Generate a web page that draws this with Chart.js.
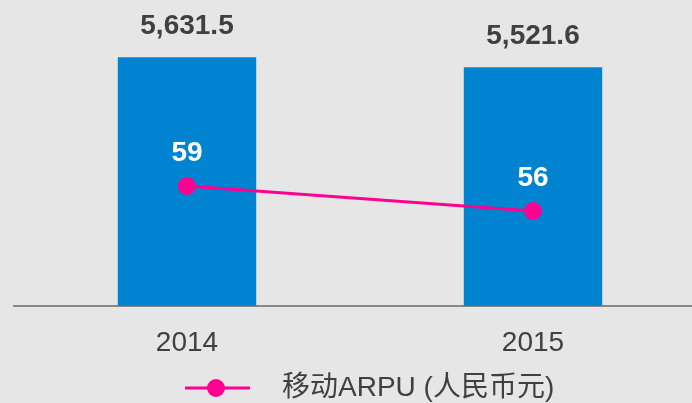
<!DOCTYPE html>
<html>
<head>
<meta charset="utf-8">
<script src="https://cdn.jsdelivr.net/npm/chart.js@4"></script>
<style>
  html, body { margin: 0; padding: 0; background: #e6e6e6; overflow: hidden; }
  canvas { display: block; }
</style>
</head>
<body>
<canvas id="arpuChart" width="706" height="403"></canvas>
<script>
const years = ['2014', '2015'];
const barValues = [5631.5, 5521.6];
const arpuValues = [59, 56];
const legendText = '移动ARPU (人民币元)';

const fontFamily = '"Liberation Sans", Arial, "Noto Sans CJK SC", sans-serif';
const textColor = '#404040';
const barColor = '#0084d1';
const lineColor = '#ff0090';

// value labels above bars and points
const labelPlugin = {
    id: 'valueLabels',
    afterDatasetsDraw(chart) {
        const ctx = chart.ctx;
        ctx.save();
        ctx.textAlign = 'center';
        ctx.textBaseline = 'middle';
        ctx.font = 'bold 28px ' + fontFamily;

        chart.getDatasetMeta(1).data.forEach((bar, i) => {
            ctx.fillStyle = textColor;
            ctx.fillText(barValues[i].toLocaleString('en-US', {minimumFractionDigits: 1}), bar.x, bar.y - 31);
        });
        chart.getDatasetMeta(0).data.forEach((pt, i) => {
            ctx.fillStyle = '#ffffff';
            ctx.fillText(String(arpuValues[i]), pt.x, pt.y - 33);
        });
        ctx.restore();
    },
    afterDraw(chart) {
        // legend: line with a dot, then text
        const ctx = chart.ctx;
        const y = 388;
        ctx.save();
        ctx.strokeStyle = lineColor;
        ctx.lineWidth = 3;
        ctx.beginPath();
        ctx.moveTo(185, y);
        ctx.lineTo(250, y);
        ctx.stroke();
        ctx.fillStyle = lineColor;
        ctx.beginPath();
        ctx.arc(216, y, 9, 0, Math.PI * 2);
        ctx.fill();
        ctx.fillStyle = textColor;
        ctx.font = '28px ' + fontFamily;
        ctx.textAlign = 'left';
        ctx.textBaseline = 'middle';
        ctx.fillText(legendText, 282, y);
        ctx.restore();
    }
};

const ctx = document.getElementById('arpuChart').getContext('2d');
const arpuChart = new Chart(ctx, {
    type: 'bar',
    data: {
        labels: years,
        datasets: [{
            type: 'line',
            label: legendText,
            data: arpuValues,
            yAxisID: 'y2',
            borderColor: lineColor,
            backgroundColor: lineColor,
            borderWidth: 3,
            pointRadius: 9,
            pointHoverRadius: 9,
            pointBorderWidth: 0,
            tension: 0,
            fill: false
        }, {
            label: 'bars',
            data: barValues,
            yAxisID: 'y',
            backgroundColor: barColor,
            borderWidth: 0,
            barPercentage: 0.4,
            categoryPercentage: 1
        }]
    },
    options: {
        responsive: false,
        animation: false,
        layout: { autoPadding: false, padding: { left: 14, right: 0, top: 0, bottom: 0 } },
        plugins: {
            legend: { display: false },
            tooltip: { enabled: false }
        },
        scales: {
            x: {
                grid: { display: false, drawTicks: false },
                border: { display: true, color: '#888888', width: 2 },
                ticks: {
                    color: textColor,
                    font: { size: 28, family: fontFamily },
                    padding: 20
                },
                afterFit(scale) { scale.height = 97; }
            },
            y: {
                display: false,
                min: 2900,
                max: 6260
            },
            y2: {
                display: false,
                position: 'right',
                min: 44.6,
                max: 81.32
            }
        }
    },
    plugins: [labelPlugin]
});
</script>
</body>
</html>
